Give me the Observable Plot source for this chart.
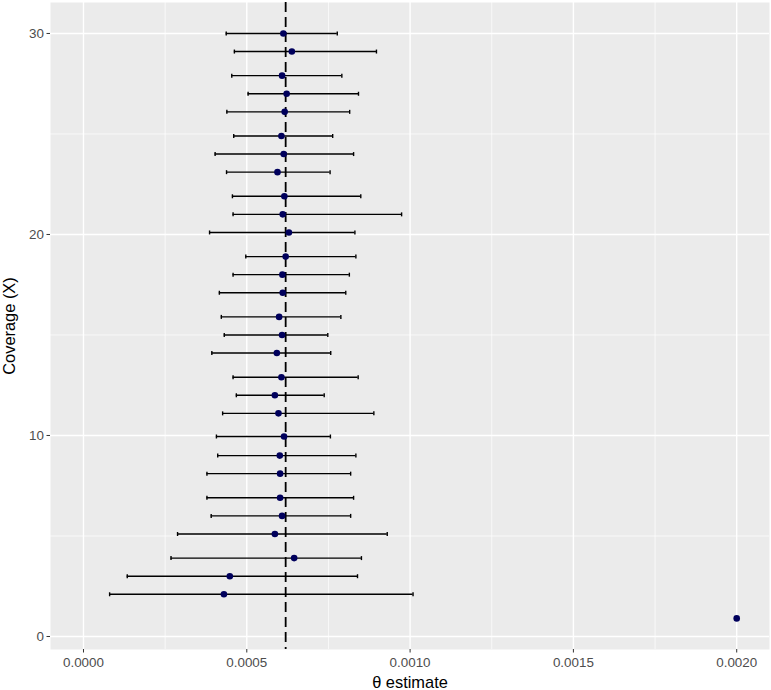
<!DOCTYPE html>
<html><head><meta charset="utf-8">
<script src="https://cdn.jsdelivr.net/npm/d3@7"></script>
<script src="https://cdn.jsdelivr.net/npm/@observablehq/plot@0.6"></script>
<style>body{margin:0;background:#fff} svg{display:block}</style>
</head><body><div id="chart"></div>
<script>
const coverage = [30.0, 29.1, 27.9, 27.0, 26.1, 24.9, 24.0, 23.1, 21.9, 21.0, 20.1, 18.9, 18.0, 17.1, 15.9, 15.0, 14.1, 12.9, 12.0, 11.1, 9.95, 9.0, 8.1, 6.9, 6.0, 5.1, 3.9, 3.0, 2.1, 0.9];
const estimate = [0.000612, 0.000638, 0.000608, 0.000622, 0.000616, 0.000606, 0.000613, 0.000594, 0.000615, 0.000610, 0.000629, 0.000619, 0.000609, 0.000610, 0.000599, 0.000608, 0.000592, 0.000606, 0.000586, 0.000597, 0.000614, 0.000601, 0.000602, 0.000602, 0.000608, 0.000586, 0.000645, 0.000448, 0.000430, 0.002000];
const lower = [0.000437, 0.000462, 0.000454, 0.000504, 0.000439, 0.000460, 0.000403, 0.000438, 0.000456, 0.000458, 0.000386, 0.000497, 0.000458, 0.000416, 0.000422, 0.000431, 0.000393, 0.000458, 0.000468, 0.000426, 0.000407, 0.000411, 0.000378, 0.000378, 0.000391, 0.000288, 0.000268, 0.000134, 0.000080, null];
const upper = [0.000777, 0.000897, 0.000791, 0.000842, 0.000815, 0.000763, 0.000827, 0.000755, 0.000849, 0.000974, 0.000831, 0.000834, 0.000814, 0.000803, 0.000788, 0.000748, 0.000757, 0.000841, 0.000737, 0.000889, 0.000756, 0.000834, 0.000818, 0.000827, 0.000818, 0.000930, 0.000851, 0.000839, 0.001009, null];
const refLine = [0.000619];
const xTicks = [0, 0.0005, 0.001, 0.0015, 0.002];
const xMinor = [0.00025, 0.00075, 0.00125, 0.00175];
const yTicks = [0, 10, 20, 30];
const yMinor = [5, 15, 25];
const xTitle = "θ estimate";
const yTitle = "Coverage (X)";

const rows = coverage.map((c, i) => ({coverage: c, estimate: estimate[i], lower: lower[i], upper: upper[i]}));
const bars = rows.filter(d => d.lower != null);
const capSymbol = {draw(ctx, size) { const h = Math.sqrt(size / Math.PI); ctx.moveTo(0, -h); ctx.lineTo(0, h); }};

const chart = Plot.plot({
  width: 771, height: 690,
  marginLeft: 50, marginRight: 2, marginTop: 2, marginBottom: 41,
  x: {domain: [-0.000101, 0.0021004]},
  y: {domain: [-0.647, 31.54]},
  style: {fontFamily: "'Liberation Sans', Arial, sans-serif", background: "white"},
  marks: [
    Plot.frame({fill: "#ebebeb", stroke: null}),
    Plot.ruleX(xMinor, {stroke: "white", strokeWidth: 0.7}),
    Plot.ruleY(yMinor, {stroke: "white", strokeWidth: 0.7}),
    Plot.ruleX(xTicks, {stroke: "white", strokeWidth: 1.4}),
    Plot.ruleY(yTicks, {stroke: "white", strokeWidth: 1.4}),
    Plot.ruleX(refLine, {stroke: "black", strokeWidth: 1.8, strokeDasharray: "10,5"}),
    Plot.ruleY(bars, {y: "coverage", x1: "lower", x2: "upper", stroke: "black", strokeWidth: 1.4}),
    Plot.dot(bars, {x: "lower", y: "coverage", symbol: capSymbol, r: 2, stroke: "black", strokeWidth: 1.4, fill: "none"}),
    Plot.dot(bars, {x: "upper", y: "coverage", symbol: capSymbol, r: 2, stroke: "black", strokeWidth: 1.4, fill: "none"}),
    Plot.dot(rows, {x: "estimate", y: "coverage", r: 3.3, fill: "#00005c", stroke: null}),
    Plot.axisX({ticks: xTicks, tickFormat: d => d.toFixed(4), tickSize: 3.5, tickPadding: 4, fontSize: 13.4, fill: "#4d4d4d", stroke: "#333333", label: null}),
    Plot.axisY({ticks: yTicks, tickFormat: d => String(d), tickSize: 3.5, tickPadding: 3, fontSize: 13.4, fill: "#4d4d4d", stroke: "#333333", label: null}),
    Plot.text([xTitle], {frameAnchor: "bottom", lineAnchor: "middle", dy: 33, fontSize: 16.4, fill: "black"}),
    Plot.text([yTitle], {frameAnchor: "left", textAnchor: "middle", lineAnchor: "middle", rotate: -90, dx: -41, fontSize: 16.4, fill: "black"})
  ]
});
document.getElementById("chart").appendChild(chart);
</script>
</body></html>
